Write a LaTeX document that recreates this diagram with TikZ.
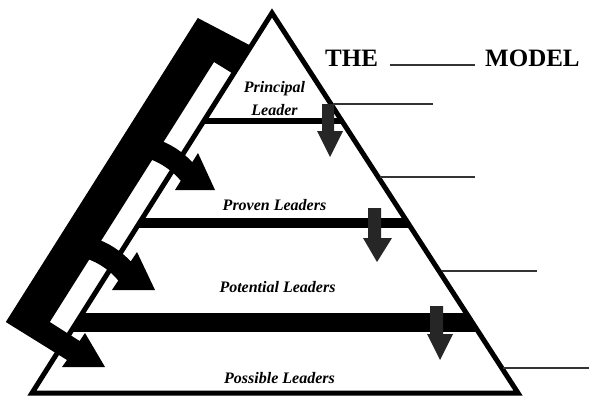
\documentclass[tikz,border=0pt]{standalone}
\usepackage{fontspec}
\setmainfont{Liberation Serif}
\begin{document}
\begin{tikzpicture}[x=1pt,y=-1pt,
  bandshape/.style={fill=black},
  levelbar/.style={fill=black},
  downarrow/.style={fill=black!85},
  pyramid/.style={draw=black,line width=5pt,line join=miter},
  lvl/.style={font=\fontsize{16}{18}\selectfont\bfseries\itshape,anchor=base,inner sep=0pt},
  blank/.style={line width=1.2pt,draw=black!80},
  ttl/.style={font=\fontsize{25}{28}\selectfont\bfseries,anchor=base west,inner sep=0pt}
]
\useasboundingbox (0,0) rectangle (589,399);
\fill[white] (0,0) rectangle (589,399);

\coordinate (apex) at (272,13);
\coordinate (bl) at (32,393);
\coordinate (br) at (518,393);

% level bars, clipped to the pyramid
\begin{scope}
  \clip (apex) -- (bl) -- (br) -- cycle;
  \fill[levelbar] (150,118) rectangle (400,124);
  \fill[levelbar] (100,218) rectangle (450,228);
  \fill[levelbar] (40,313) rectangle (500,332);
\end{scope}

% pyramid outline
\draw[pyramid] (apex) -- (bl) -- (br) -- cycle;

% left band with top arm and bottom arrow
\fill[bandshape] (197.8,18) -- (251.2,46) -- (233.5,74) -- (214,62)
  -- (49.8,322) -- (79.6,341) -- (85,333) -- (105,367) -- (62,367)
  -- (67,360) -- (5.8,322) -- cycle;

% branch arrow to Proven Leaders
\fill[bandshape] (154,138.5) .. controls (170,143) and (183,152) .. (192.25,162.25)
  -- (198,153) -- (215,190)
  -- (175,190) -- (180.75,180.75) .. controls (170,168) and (156,160) .. (142.5,157) -- cycle;

% branch arrow to Potential Leaders
\fill[bandshape] (92.55,237.7) .. controls (108,242) and (121,251) .. (130.75,261.5)
  -- (137,252) -- (155,290)
  -- (112,290) -- (118.25,280.5) .. controls (108,268) and (94,260) .. (80.05,256.7) -- cycle;

% down arrows on the bars
\fill[downarrow] (322,104) -- (334,104) -- (334,131) -- (343,131) -- (330,157)
  -- (317,131) -- (322,131) -- cycle;
\fill[downarrow] (368,208) -- (381,208) -- (381,238) -- (392,238) -- (377,262)
  -- (363,238) -- (368,238) -- cycle;
\fill[downarrow] (430,306) -- (443,306) -- (443,334) -- (453,334) -- (440,360)
  -- (427,334) -- (430,334) -- cycle;

% level labels
\node[lvl] (principal) at (274.5,92) {Principal};
\node[lvl] (leader) at (274.5,115) {Leader};
\node[lvl] (proven) at (274.5,210) {Proven Leaders};
\node[lvl] (potential) at (277.5,292) {Potential Leaders};
\node[lvl] (possible) at (279.5,383) {Possible Leaders};

% blank lines on the right
\coordinate (l1a) at (333,104); \coordinate (l1b) at (433,104);
\coordinate (l2a) at (380,177); \coordinate (l2b) at (475,177);
\coordinate (l3a) at (442,271); \coordinate (l3b) at (537,271);
\coordinate (l4a) at (503,368); \coordinate (l4b) at (589,368);
\draw[blank] (l1a) -- (l1b);
\draw[blank] (l2a) -- (l2b);
\draw[blank] (l3a) -- (l3b);
\draw[blank] (l4a) -- (l4b);

% title
\node[ttl] (the) at (325,66) {THE};
\node[ttl] (model) at (485,66) {MODEL};
\coordinate (u1) at (390,65); \coordinate (u2) at (475,65);
\draw[line width=1.5pt,draw=black!80] (u1) -- (u2);
\end{tikzpicture}
\end{document}
